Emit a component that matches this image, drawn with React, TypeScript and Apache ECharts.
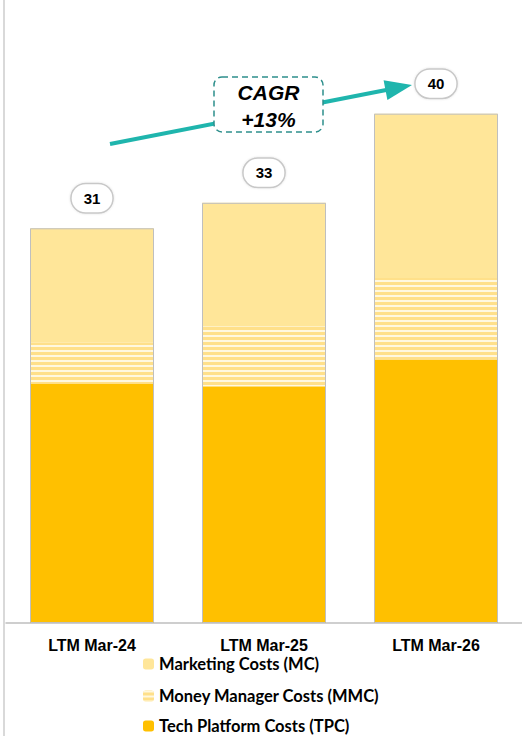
import React, { useEffect, useRef } from "react";
import * as echarts from "echarts";

const categories = ["LTM Mar-24", "LTM Mar-25", "LTM Mar-26"];
const tpcValues = [18.8, 18.6, 20.7];
const mmcValues = [3.2, 4.7, 6.4];
const mcValues = [9.0, 9.7, 12.9];
const totals = [31, 33, 40];
const seriesNames = ["Marketing Costs (MC)", "Money Manager Costs (MMC)", "Tech Platform Costs (TPC)"];
const cagrText = "CAGR\n+13%";

export default function App() {
  const ref = useRef<HTMLDivElement>(null);
  useEffect(() => {
    if (!ref.current) return;
    const chart = echarts.init(ref.current, null, { renderer: "svg" });
    const teal = "#1fb5ad";
    const tip = [412, 85];
    const tail = [110, 144];
    const dx = tip[0] - tail[0];
    const dy = tip[1] - tail[1];
    const len = Math.sqrt(dx * dx + dy * dy);
    const ux = dx / len, uy = dy / len;
    const headLen = 27, halfW = 10;
    const bx = tip[0] - ux * headLen, by = tip[1] - uy * headLen;
    const legendBase = {
      orient: "vertical",
      left: 143,
      padding: 0,
      itemWidth: 11,
      itemHeight: 11,
      textStyle: {
        color: "#000",
        fontFamily: "Lato",
        fontWeight: "bold",
        fontSize: 16.5,
        lineHeight: 18,
      },
    };
    const option: any = {
      animation: false,
      grid: { left: 6, right: 0, top: 50, bottom: 113 },
      xAxis: {
        type: "category",
        data: categories,
        axisLine: { lineStyle: { color: "#bfbfbf", width: 1.5 } },
        axisTick: { show: false },
        axisLabel: {
          color: "#000",
          fontFamily: "Liberation Sans",
          fontWeight: "bold",
          fontSize: 16,
          margin: 14,
        },
      },
      yAxis: { type: "value", min: 0, max: 45, show: false, splitLine: { show: false } },
      legend: [
        { ...legendBase, top: 655, data: [seriesNames[0]] },
        { ...legendBase, top: 687, data: [seriesNames[1]] },
        { ...legendBase, top: 717, data: [seriesNames[2]] },
      ],
      series: [
        {
          name: seriesNames[2],
          type: "bar",
          stack: "cost",
          barWidth: 124,
          data: tpcValues,
          itemStyle: { color: "#ffc000" },
        },
        {
          name: seriesNames[1],
          type: "bar",
          stack: "cost",
          barWidth: 124,
          data: mmcValues,
          itemStyle: {
            color: "#ffe08a",
            decal: {
              symbol: "rect",
              symbolSize: 1,
              dashArrayX: [[1, 0]],
              dashArrayY: [2, 3],
              rotation: 0,
              color: "rgba(255,251,232,0.9)",
            },
          },
        },
        {
          name: seriesNames[0],
          type: "bar",
          stack: "cost",
          barWidth: 124,
          data: mcValues,
          itemStyle: { color: "#ffe699" },
        },
        {
          name: "Total",
          type: "bar",
          barWidth: 124,
          barGap: "-100%",
          data: totals,
          z: 5,
          itemStyle: { color: "transparent", borderColor: "#bfbfbf", borderWidth: 1 },
          label: {
            show: true,
            position: "top",
            distance: 16,
            formatter: "{c}",
            color: "#000",
            fontFamily: "Liberation Sans",
            fontWeight: "bold",
            fontSize: 15,
            lineHeight: 16,
            backgroundColor: "#fff",
            borderColor: "#c8c8c8",
            borderWidth: 1.5,
            borderRadius: 14,
            padding: [6, 12],
            shadowColor: "rgba(0,0,0,0.12)",
            shadowBlur: 2,
          },
          tooltip: { show: false },
        },
      ],
      graphic: [
        {
          type: "line",
          shape: { x1: 4, y1: 0, x2: 4, y2: 736 },
          style: { stroke: "#d9d9d9", lineWidth: 2 },
        },
        {
          type: "line",
          shape: { x1: tail[0], y1: tail[1], x2: bx + ux * 2, y2: by + uy * 2 },
          style: { stroke: teal, lineWidth: 4 },
          z: 10,
        },
        {
          type: "polygon",
          shape: {
            points: [
              [tip[0], tip[1]],
              [bx - uy * halfW, by + ux * halfW],
              [bx + uy * halfW, by - ux * halfW],
            ],
          },
          style: { fill: teal },
          z: 10,
        },
        {
          type: "rect",
          shape: { x: 214, y: 77, width: 109, height: 55, r: 8 },
          style: { fill: "#fff", stroke: "#2e8f8c", lineWidth: 1.5, lineDash: [6, 4] },
          z: 11,
        },
        {
          type: "text",
          x: 268.5,
          y: 106,
          style: {
            text: cagrText,
            align: "center",
            verticalAlign: "middle",
            fill: "#000",
            font: "italic bold 21px 'Liberation Sans'",
            lineHeight: 27,
          },
          z: 12,
        },
      ],
    };
    chart.setOption(option);
    return () => chart.dispose();
  }, []);
  return (
    <div
      ref={ref}
      style={{ position: "fixed", left: 0, top: 0, width: 522, height: 736, background: "#fff" }}
    />
  );
}
